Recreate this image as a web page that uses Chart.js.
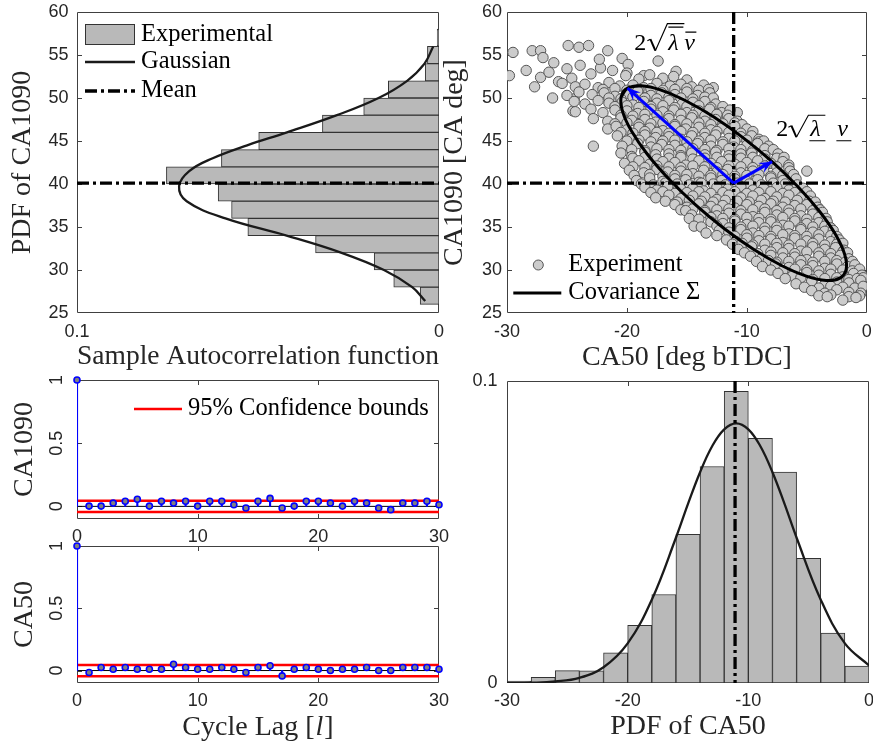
<!DOCTYPE html>
<html>
<head>
<meta charset="utf-8">
<script src="https://cdn.jsdelivr.net/npm/chart.js@4.4.1/dist/chart.umd.min.js"></script>
<style>
html, body { margin: 0; padding: 0; background: #fff; overflow: hidden; }
#fig { position: relative; width: 873px; height: 746px; }
#fig canvas { position: absolute; }
</style>
</head>
<body>
<div id="fig">
  <canvas id="cPdf1090" style="left:0;top:0" width="450" height="372"></canvas>
  <canvas id="cScatter" style="left:440px;top:0" width="433" height="372"></canvas>
  <canvas id="cAcf1090" style="left:0;top:372px" width="450" height="180"></canvas>
  <canvas id="cAcf50" style="left:0;top:540px" width="450" height="206"></canvas>
  <canvas id="cPdf50" style="left:440px;top:372px" width="433" height="374"></canvas>
</div>
<script>
// ─────────────────────────────
// DATA
// ─────────────────────────────
// CA1090 histogram (bins of 2 deg) + fitted gaussian
const ca1090BinCentres = [27, 29, 31, 33, 35, 37, 39, 41, 43, 45, 47, 49, 51, 53, 55, 57];
const ca1090Pdf = [0.0052, 0.0125, 0.0179, 0.0341, 0.0528, 0.0573, 0.0610, 0.0753, 0.0601, 0.0498, 0.0322, 0.0208, 0.0140, 0.0038, 0.0032, 0.0005];
const ca1090FitAt = [26.4, 28, 30, 32, 34, 36, 38, 39.75, 41.5, 43, 44.5, 46, 48, 50, 52, 54, 56];
const ca1090FitPdf = [0.0038, 0.0074, 0.0152, 0.0269, 0.0421, 0.0590, 0.0697, 0.0718, 0.0690, 0.0625, 0.0530, 0.0420, 0.0282, 0.0167, 0.0088, 0.0040, 0.0016];
const ca1090Mean = 40.1;

// CA50 histogram + fitted gaussian
const ca50BinCentres = [-29, -27, -25, -23, -21, -19, -17, -15, -13, -11, -9, -7, -5, -3, -1];
const ca50Pdf = [0.0006, 0.0019, 0.0041, 0.0040, 0.0100, 0.0191, 0.0293, 0.0492, 0.0717, 0.0966, 0.0810, 0.0698, 0.0413, 0.0165, 0.0056];
const ca50FitAt = [-30, -28, -26, -24, -22, -20, -18, -16, -15, -14, -13, -12, -11, -10, -9, -8, -7, -6, -4, -2, 0];
const ca50FitPdf = [0.0000, 0.0001, 0.0005, 0.0017, 0.0052, 0.0131, 0.0276, 0.0481, 0.0593, 0.0698, 0.0784, 0.0840, 0.0860, 0.0840, 0.0784, 0.0698, 0.0593, 0.0481, 0.0276, 0.0131, 0.0058];
const ca50Mean = -11.1;

// experiment cloud [CA50, CA1090]
const experiment = [
  // sparse upper-left points and outliers
  [-29.5,55.3],[-29.8,52.6],[-27.9,55.5],[-27.2,55.5],[-27.0,54.7],[-28.4,53.2],[-27.2,52.4],[-27.7,51.3],[-26.1,54.1],[-26.5,53.0],
  [-24.9,56.1],[-24.0,55.9],[-23.2,56.1],[-25.0,53.4],[-25.7,51.9],[-24.6,52.3],[-26.2,50.0],[-24.4,49.9],[-24.5,48.5],[-23.9,53.8],
  [-23.0,52.8],[-22.2,53.5],[-21.2,53.2],[-21.6,55.5],[-22.3,54.5],[-20.4,54.6],[-19.9,53.9],[-20.0,52.9],[-17.4,54.3],[-15.9,53.1],
  [-18.6,52.6],[-22.8,44.4],[-12.8,51.2],[-10.8,48.3],[-5.0,41.5],
  // main band
  [-20.1,52.6],[-19.0,52.2],[-18.1,52.7],[-17.0,52.3],[-16.1,52.5],[-15.0,52.1],
  [-25.4,51.7],[-24.3,51.3],[-23.5,51.6],[-22.4,51.2],[-21.5,51.8],[-20.6,51.4],[-19.5,51.5],[-18.6,51.2],[-17.5,51.7],[-16.4,51.4],[-15.5,51.6],[-14.6,51.3],[-13.6,51.5],
  [-22.0,51.0],[-21.0,51.1],[-20.0,50.9],[-19.0,51.0],[-18.0,51.1],[-17.0,50.9],[-16.0,51.0],[-15.0,51.1],[-14.0,50.9],[-13.2,51.0],
  [-25.0,50.3],[-24.0,50.7],[-22.9,50.4],[-21.9,50.6],[-21.0,50.2],[-20.0,50.5],[-19.1,50.8],[-18.0,50.3],[-17.1,50.6],[-16.0,50.4],[-15.0,50.7],[-14.1,50.3],[-13.1,50.6],
  [-21.5,50.0],[-20.5,49.9],[-19.5,50.1],[-18.5,50.0],[-17.5,49.9],[-16.5,50.1],[-15.5,50.0],[-14.5,49.9],[-13.5,50.1],[-12.8,50.0],
  [-24.4,49.6],[-23.5,49.3],[-22.4,49.7],[-21.5,49.4],[-20.4,49.5],[-19.5,49.2],[-18.6,49.6],[-17.5,49.4],[-16.5,49.7],[-15.4,49.3],[-14.5,49.5],[-13.5,49.6],[-12.6,49.3],
  [-21.0,49.0],[-20.0,49.1],[-19.0,48.9],[-18.0,49.0],[-17.0,49.1],[-16.0,48.9],[-15.0,49.0],[-14.0,49.1],[-13.0,48.9],[-12.0,49.0],
  [-24.3,48.4],[-23.0,48.7],[-22.0,48.3],[-21.0,48.6],[-20.0,48.5],[-19.1,48.2],[-18.0,48.7],[-17.0,48.4],[-16.1,48.6],[-15.0,48.3],[-14.0,48.5],[-13.1,48.7],[-12.1,48.3],[-11.4,48.6],
  [-20.5,48.0],[-19.5,47.9],[-18.5,48.1],[-17.5,48.0],[-16.5,47.9],[-15.5,48.1],[-14.5,48.0],[-13.5,47.9],[-12.5,48.1],[-11.6,48.0],
  [-22.8,47.6],[-21.6,47.3],[-20.5,47.7],[-19.6,47.4],[-18.5,47.5],[-17.6,47.2],[-16.5,47.6],[-15.5,47.4],[-14.6,47.7],[-13.5,47.3],[-12.6,47.5],[-11.5,47.6],[-10.8,47.3],
  [-21.0,47.0],[-20.0,47.1],[-19.0,46.9],[-18.0,47.0],[-17.0,47.1],[-16.0,46.9],[-15.0,47.0],[-14.0,47.1],[-13.0,46.9],[-12.0,47.0],[-11.0,47.1],[-10.4,46.9],
  [-21.6,46.4],[-20.9,46.7],[-20.0,46.3],[-19.0,46.6],[-18.1,46.5],[-17.0,46.2],[-16.0,46.7],[-15.1,46.4],[-14.0,46.6],[-13.0,46.3],[-12.1,46.5],[-11.0,46.7],[-10.0,46.4],
  [-20.5,46.0],[-19.5,45.9],[-18.5,46.1],[-17.5,46.0],[-16.5,45.9],[-15.5,46.1],[-14.5,46.0],[-13.5,45.9],[-12.5,46.1],[-11.5,46.0],[-10.5,45.9],[-9.5,46.1],
  [-20.8,45.6],[-19.6,45.3],[-18.5,45.7],[-17.6,45.4],[-16.5,45.5],[-15.5,45.2],[-14.6,45.6],[-13.5,45.4],[-12.6,45.7],[-11.5,45.3],[-10.5,45.5],[-9.6,45.6],[-9.0,45.2],
  [-20.0,45.0],[-19.0,45.1],[-18.0,44.9],[-17.0,45.0],[-16.0,45.1],[-15.0,44.9],[-14.0,45.0],[-13.0,45.1],[-12.0,44.9],[-11.0,45.0],[-10.0,45.1],[-9.0,44.9],[-8.6,45.0],
  [-20.4,44.4],[-19.1,44.7],[-18.0,44.3],[-17.1,44.6],[-16.0,44.5],[-15.0,44.2],[-14.1,44.7],[-13.0,44.4],[-12.0,44.6],[-11.1,44.3],[-10.0,44.5],[-9.1,44.7],[-8.2,44.4],
  [-19.6,44.0],[-18.5,43.9],[-17.5,44.1],[-16.5,44.0],[-15.5,43.9],[-14.5,44.1],[-13.5,44.0],[-12.5,43.9],[-11.5,44.1],[-10.5,44.0],[-9.5,43.9],[-8.5,44.1],[-7.8,44.0],
  [-20.5,43.6],[-19.6,43.2],[-18.5,43.7],[-17.6,43.4],[-16.5,43.5],[-15.5,43.3],[-14.6,43.6],[-13.5,43.4],[-12.6,43.7],[-11.5,43.3],[-10.5,43.5],[-9.6,43.6],[-8.5,43.3],[-7.4,43.5],
  [-19.5,43.0],[-18.5,43.1],[-17.5,42.9],[-16.5,43.0],[-15.5,43.1],[-14.5,42.9],[-13.5,43.0],[-12.5,43.1],[-11.5,42.9],[-10.5,43.0],[-9.5,43.1],[-8.5,42.9],[-7.5,43.0],[-6.9,43.1],
  [-20.2,42.4],[-19.0,42.7],[-18.1,42.3],[-17.0,42.6],[-16.0,42.5],[-15.1,42.2],[-14.0,42.7],[-13.0,42.4],[-12.1,42.6],[-11.0,42.3],[-10.0,42.5],[-9.1,42.7],[-8.0,42.4],[-7.0,42.6],[-6.5,42.2],
  [-19.5,42.0],[-18.5,41.9],[-17.5,42.1],[-16.5,42.0],[-15.5,41.9],[-14.5,42.1],[-13.5,42.0],[-12.5,41.9],[-11.5,42.1],[-10.5,42.0],[-9.5,41.9],[-8.5,42.1],[-7.5,42.0],[-6.5,41.9],
  [-19.8,41.6],[-18.6,41.3],[-17.5,41.7],[-16.6,41.4],[-15.5,41.5],[-14.5,41.2],[-13.6,41.6],[-12.5,41.4],[-11.6,41.7],[-10.5,41.3],[-9.5,41.5],[-8.6,41.6],[-7.5,41.3],[-6.4,41.5],
  [-19.4,41.0],[-18.1,41.1],[-17.0,40.9],[-16.0,41.0],[-15.0,41.1],[-14.0,40.9],[-13.0,41.0],[-12.0,41.1],[-11.0,40.9],[-10.0,41.0],[-9.0,41.1],[-8.0,40.9],[-7.0,41.0],[-6.1,41.1],
  [-19.2,40.4],[-18.1,40.7],[-17.0,40.3],[-16.0,40.6],[-15.1,40.5],[-14.0,40.2],[-13.0,40.7],[-12.1,40.4],[-11.0,40.6],[-10.0,40.3],[-9.1,40.5],[-8.0,40.7],[-7.0,40.4],[-5.9,40.6],
  [-18.8,40.0],[-17.8,39.9],[-16.8,40.1],[-15.8,40.0],[-14.8,39.9],[-13.8,40.1],[-12.8,40.0],[-11.8,39.9],[-10.8,40.1],[-9.8,40.0],[-8.8,39.9],[-7.8,40.1],[-6.8,40.0],[-5.8,39.9],
  [-18.5,39.6],[-17.5,39.3],[-16.6,39.7],[-15.5,39.4],[-14.5,39.5],[-13.6,39.2],[-12.5,39.6],[-11.6,39.4],[-10.5,39.7],[-9.5,39.3],[-8.6,39.5],[-7.5,39.6],[-6.5,39.3],[-5.3,39.5],
  [-18.0,39.0],[-17.0,39.1],[-16.0,38.9],[-15.0,39.0],[-14.0,39.1],[-13.0,38.9],[-12.0,39.0],[-11.0,39.1],[-10.0,38.9],[-9.0,39.0],[-8.0,39.1],[-7.0,38.9],[-6.0,39.0],[-5.0,39.1],
  [-17.6,38.4],[-16.5,38.7],[-15.5,38.3],[-14.5,38.6],[-13.5,38.5],[-12.5,38.2],[-11.5,38.7],[-10.5,38.4],[-9.5,38.6],[-8.5,38.3],[-7.5,38.5],[-6.5,38.7],[-5.5,38.4],[-4.7,38.6],
  [-16.8,38.0],[-15.8,37.9],[-14.8,38.1],[-13.8,38.0],[-12.8,37.9],[-11.8,38.1],[-10.8,38.0],[-9.8,37.9],[-8.8,38.1],[-7.8,38.0],[-6.8,37.9],[-5.8,38.1],[-4.8,38.0],[-4.3,37.9],
  [-16.0,37.6],[-15.0,37.3],[-14.0,37.7],[-13.0,37.4],[-12.0,37.5],[-11.0,37.2],[-10.0,37.6],[-9.0,37.4],[-8.0,37.7],[-7.0,37.3],[-6.0,37.5],[-5.0,37.6],[-4.1,37.3],
  [-15.5,37.0],[-14.5,37.1],[-13.5,36.9],[-12.5,37.0],[-11.5,37.1],[-10.5,36.9],[-9.5,37.0],[-8.5,37.1],[-7.5,36.9],[-6.5,37.0],[-5.5,37.1],[-4.5,36.9],[-3.9,37.0],
  [-15.1,36.9],[-14.6,36.4],[-13.5,36.7],[-12.5,36.3],[-11.5,36.6],[-10.5,36.5],[-9.5,36.2],[-8.5,36.7],[-7.5,36.4],[-6.5,36.6],[-5.5,36.3],[-4.5,36.5],[-3.7,36.7],
  [-14.8,36.0],[-14.0,35.9],[-13.0,36.1],[-12.0,36.0],[-11.0,35.9],[-10.0,36.1],[-9.0,36.0],[-8.0,35.9],[-7.0,36.1],[-6.0,36.0],[-5.0,35.9],[-4.0,36.1],[-3.4,36.0],
  [-14.4,35.1],[-13.0,35.6],[-12.0,35.4],[-11.0,35.7],[-10.0,35.3],[-9.0,35.5],[-8.0,35.6],[-7.0,35.2],[-6.0,35.7],[-5.0,35.4],[-4.0,35.5],[-3.3,35.6],
  [-13.8,35.0],[-12.5,35.1],[-11.5,34.9],[-10.5,35.0],[-9.5,35.1],[-8.5,34.9],[-7.5,35.0],[-6.5,35.1],[-5.5,34.9],[-4.5,35.0],[-3.5,35.1],[-3.0,34.9],
  [-13.4,34.3],[-12.3,34.6],[-11.5,34.4],[-10.5,34.7],[-9.5,34.3],[-8.5,34.5],[-7.5,34.6],[-6.5,34.2],[-5.5,34.7],[-4.5,34.4],[-3.5,34.5],[-2.8,34.6],
  [-12.5,34.0],[-11.0,33.9],[-10.0,34.1],[-9.0,34.0],[-8.0,33.9],[-7.0,34.1],[-6.0,34.0],[-5.0,33.9],[-4.0,34.1],[-3.0,34.0],[-2.5,33.9],
  [-11.7,33.5],[-10.9,33.3],[-10.0,33.7],[-9.0,33.4],[-8.0,33.6],[-7.0,33.2],[-6.0,33.7],[-5.0,33.4],[-4.0,33.6],[-3.0,33.3],[-2.3,33.5],
  [-11.2,33.0],[-10.4,33.1],[-9.5,32.9],[-8.5,33.0],[-7.5,33.1],[-6.5,32.9],[-5.5,33.0],[-4.5,33.1],[-3.5,32.9],[-2.5,33.0],[-2.0,33.1],
  [-10.7,32.4],[-9.6,32.7],[-8.5,32.3],[-7.5,32.6],[-6.5,32.5],[-5.5,32.2],[-4.5,32.7],[-3.5,32.4],[-2.6,32.6],[-1.9,32.3],
  [-10.2,32.0],[-9.1,31.9],[-8.0,32.1],[-7.0,32.0],[-6.0,31.9],[-5.0,32.1],[-4.0,32.0],[-3.0,31.9],[-2.0,32.1],[-1.6,32.0],
  [-9.7,31.6],[-8.8,31.3],[-8.0,31.7],[-7.0,31.4],[-6.0,31.5],[-5.0,31.2],[-4.0,31.6],[-3.0,31.4],[-2.2,31.7],[-1.5,31.3],
  [-9.2,31.0],[-8.2,31.1],[-7.5,30.9],[-6.5,31.0],[-5.5,31.1],[-4.5,30.9],[-3.5,31.0],[-2.5,31.1],[-1.8,30.9],[-1.2,31.0],
  [-8.7,30.4],[-7.6,30.7],[-6.5,30.3],[-5.5,30.6],[-4.5,30.5],[-3.5,30.2],[-2.5,30.7],[-1.6,30.4],[-1.0,30.6],
  [-8.0,30.0],[-7.0,29.9],[-6.0,30.1],[-5.0,30.0],[-4.0,29.9],[-3.0,30.1],[-2.0,30.0],[-1.2,29.9],[-0.6,30.1],
  [-7.4,29.6],[-6.2,29.3],[-5.0,29.7],[-4.0,29.4],[-3.0,29.5],[-2.0,29.2],[-1.1,29.6],[-0.4,29.4],
  [-6.8,29.0],[-5.5,29.1],[-4.5,28.9],[-3.5,29.0],[-2.5,29.1],[-1.5,28.9],[-0.8,29.0],[-0.3,29.1],
  [-5.9,28.4],[-4.6,28.7],[-3.5,28.3],[-2.5,28.6],[-1.5,28.5],[-0.5,28.8],
  [-5.2,28.0],[-4.0,27.9],[-3.0,28.1],[-2.0,28.0],[-1.0,27.9],[-0.3,28.1],
  [-4.6,27.6],[-3.5,27.3],[-2.5,27.7],[-1.5,27.4],[-0.5,27.3],
  [-4.0,27.0],[-3.0,27.1],[-1.5,26.9],[-0.6,27.0],
  [-3.3,26.9],[-2.0,26.5],[-0.9,26.8]
];

// covariance ellipse outline (loop overlaps its start)
const covEllipse = [
  [-20.48,50.13],[-19.95,51.15],[-18.82,51.42],[-17.16,50.92],[-15.10,49.68],[-12.75,47.79],[-10.30,45.37],
  [-7.90,42.60],[-5.72,39.66],[-3.90,36.74],[-2.58,34.06],[-1.84,31.78],[-1.72,30.07],[-2.25,29.05],
  [-3.38,28.78],[-5.04,29.28],[-7.11,30.52],[-9.45,32.41],[-11.90,34.83],[-14.30,37.60],[-16.48,40.55],
  [-18.30,43.46],[-19.62,46.15],[-20.36,48.42],[-20.48,50.13],[-19.95,51.15],[-18.82,51.42]
];
const arrowMajor = [[-11.1, 40.1], [-19.95, 51.15]];
const arrowMinor = [[-11.1, 40.1], [-7.9, 42.6]];

// sample autocorrelation
const lags = [0, 1, 2, 3, 4, 5, 6, 7, 8, 9, 10, 11, 12, 13, 14, 15, 16, 17, 18, 19, 20, 21, 22, 23, 24, 25, 26, 27, 28, 29, 30];
const acfCA1090 = [1, 0.002, 0.002, 0.026, 0.040, 0.056, 0.002, 0.040, 0.026, 0.040, 0.002, 0.040, 0.040, 0.013, -0.013, 0.040, 0.063, -0.013, 0.002, 0.040, 0.040, 0.026, 0.002, 0.040, 0.026, -0.013, -0.026, 0.026, 0.026, 0.040, 0.013];
const acfCA50 = [1, -0.016, 0.024, 0.011, 0.024, 0.011, 0.011, 0.011, 0.051, 0.024, 0.011, 0.011, 0.024, 0.011, -0.016, 0.024, 0.038, -0.043, 0.011, 0.024, 0.011, 0.000, 0.011, 0.011, 0.024, 0.000, 0.000, 0.024, 0.024, 0.024, 0.011];
const confBound = 0.045;

// tick values
const pdfTicks1090 = [0, 0.1];
const caTicks = [25, 30, 35, 40, 45, 50, 55, 60];
const ca50Ticks = [-30, -20, -10, 0];
const lagTicks = [0, 10, 20, 30];
const acfTicks = [0, 0.5, 1];
const pdfTicks50 = [0, 0.1];

// ─────────────────────────────
// STYLE
// ─────────────────────────────
const INK = '#262626';
const BOX = '#404040';
const HIST_FILL = '#b9b9b9';
const HIST_EDGE = '#333333';
const FIT_LINE = '#1a1a1a';
const MEAN_DASH = [12, 4, 3, 4];
const SERIF = '"Liberation Serif"';
const LEG_FONT = '24.5px ' + SERIF;

Chart.defaults.font.family = 'Liberation Sans';

function axis(o) {
    return {
        type: 'linear', min: o.min, max: o.max, reverse: !!o.reverse, offset: false,
        grid: { display: false, drawTicks: false },
        border: { display: false },
        afterBuildTicks: s => { s.ticks = o.ticks.map(v => ({ value: v })); },
        afterFit: s => {
            if (s.isHorizontal()) { s.height = o.size; s.paddingLeft = 0; s.paddingRight = 0; }
            else { s.width = o.size; s.paddingTop = 0; s.paddingBottom = 0; }
        },
        ticks: {
            display: o.showLabels !== false, autoSkip: false, maxRotation: 0, minRotation: 0,
            padding: o.pad == null ? 7 : o.pad, color: INK,
            font: { family: 'Liberation Sans', size: 18 }
        },
        title: o.title ? {
            display: true, text: o.title, color: INK,
            font: { family: 'Liberation Serif', size: 28, lineHeight: 1 }, padding: o.titlePad
        } : { display: false }
    };
}

function baseOptions(pad, scales, extra) {
    return {
        responsive: false, animation: false, events: [],
        layout: { padding: pad },
        plugins: Object.assign({ legend: { display: false }, tooltip: { enabled: false } }, extra || {}),
        scales
    };
}

function seg(ctx, x0, y0, x1, y1, color, width, dash) {
    ctx.save();
    ctx.strokeStyle = color; ctx.lineWidth = width; ctx.setLineDash(dash || []);
    ctx.beginPath(); ctx.moveTo(x0, y0); ctx.lineTo(x1, y1); ctx.stroke();
    ctx.restore();
}

function label(ctx, text, x, y, font) {
    ctx.save();
    ctx.font = font || LEG_FONT; ctx.fillStyle = '#000';
    ctx.textAlign = 'left'; ctx.textBaseline = 'middle';
    ctx.fillText(text, x, y);
    ctx.restore();
}

// ─────────────────────────────
// PLUGINS
// ─────────────────────────────
// matlab style box with inward ticks
const axesBox = {
    id: 'axesBox',
    beforeDatasetsDraw(chart, args, opts) {
        const { ctx, chartArea: a, scales: { x, y } } = chart;
        const L = 4.5;
        const l = Math.round(a.left) + 0.5, r = Math.round(a.right) - 0.5;
        const t = Math.round(a.top) + 0.5, b = Math.round(a.bottom) - 0.5;
        ctx.save();
        ctx.strokeStyle = BOX; ctx.lineWidth = 1;
        ctx.beginPath();
        ctx.rect(l, t, r - l, b - t);
        x.ticks.forEach(tk => {
            const p = Math.round(x.getPixelForValue(tk.value)) + 0.5;
            if (p <= l + 1 || p >= r - 1) return;
            ctx.moveTo(p, b); ctx.lineTo(p, b - L);
            ctx.moveTo(p, t); ctx.lineTo(p, t + L);
        });
        y.ticks.forEach(tk => {
            const p = Math.round(y.getPixelForValue(tk.value)) + 0.5;
            if (p <= t + 1 || p >= b - 1) return;
            ctx.moveTo(l, p); ctx.lineTo(l + L, p);
            ctx.moveTo(r, p); ctx.lineTo(r - L, p);
        });
        ctx.stroke();
        if (opts && opts.rotatedY) {
            ctx.fillStyle = INK; ctx.font = '18px "Liberation Sans"';
            ctx.textAlign = 'center'; ctx.textBaseline = 'middle';
            y.ticks.forEach(tk => {
                ctx.save();
                ctx.translate(a.left - 19.5, y.getPixelForValue(tk.value));
                ctx.rotate(-Math.PI / 2);
                ctx.fillText(String(tk.value), 0, 0);
                ctx.restore();
            });
        }
        ctx.restore();
    }
};

const legendPdf1090 = {
    id: 'legendPdf1090',
    afterDatasetsDraw(chart) {
        const { ctx, chartArea: a } = chart;
        const x0 = a.left + 8, x1 = a.left + 58, tx = a.left + 64;
        const r1 = a.top + 22.5, r2 = a.top + 50, r3 = a.top + 79;
        ctx.save();
        ctx.fillStyle = HIST_FILL; ctx.strokeStyle = HIST_EDGE; ctx.lineWidth = 1;
        ctx.fillRect(x0, r1 - 10.5, 50, 21);
        ctx.strokeRect(x0 + 0.5, r1 - 10, 49, 20);
        ctx.restore();
        seg(ctx, x0, r2, x1, r2, FIT_LINE, 2.3);
        seg(ctx, x0, r3, x1, r3, '#000', 3.3, MEAN_DASH);
        label(ctx, 'Experimental', tx, r1);
        label(ctx, 'Gaussian', tx, r2);
        label(ctx, 'Mean', tx, r3);
    }
};

const scatterExtras = {
    id: 'scatterExtras',
    afterDatasetsDraw(chart) {
        const { ctx, chartArea: a, scales: { x, y } } = chart;
        // arrow heads
        ctx.save();
        ctx.fillStyle = '#0000ff';
        [arrowMajor, arrowMinor].forEach(([p, q]) => {
            const x0 = x.getPixelForValue(p[0]), y0 = y.getPixelForValue(p[1]);
            const x1 = x.getPixelForValue(q[0]), y1 = y.getPixelForValue(q[1]);
            const ang = Math.atan2(y1 - y0, x1 - x0), len = 14, spread = 0.42;
            ctx.beginPath();
            ctx.moveTo(x1, y1);
            ctx.lineTo(x1 - len * Math.cos(ang - spread), y1 - len * Math.sin(ang - spread));
            ctx.lineTo(x1 - len * 0.55 * Math.cos(ang), y1 - len * 0.55 * Math.sin(ang));
            ctx.lineTo(x1 - len * Math.cos(ang + spread), y1 - len * Math.sin(ang + spread));
            ctx.closePath(); ctx.fill();
        });
        ctx.restore();

        // eigen labels
        ctx.save();
        ctx.fillStyle = '#000'; ctx.strokeStyle = '#000';
        ctx.textAlign = 'left'; ctx.textBaseline = 'alphabetic';
        const up = '24px ' + SERIF, it = 'italic 24px ' + SERIF;
        const radical = (x0, b, top, end) => {
            ctx.lineWidth = 1.1;
            ctx.beginPath(); ctx.moveTo(x0, b - 9); ctx.lineTo(x0 + 3, b - 10.5); ctx.stroke();
            ctx.lineWidth = 2;
            ctx.beginPath(); ctx.moveTo(x0 + 3, b - 10.5); ctx.lineTo(x0 + 8, b + 1); ctx.stroke();
            ctx.lineWidth = 1.1;
            ctx.beginPath(); ctx.moveTo(x0 + 8, b + 1); ctx.lineTo(x0 + 20, top); ctx.lineTo(end, top); ctx.stroke();
        };
        // 2 sqrt(lambda-bar) v-bar
        let x0 = x.getPixelForValue(-19.38), b = y.getPixelForValue(55.62);
        ctx.font = up; ctx.fillText('2', x0, b);
        radical(x0 + 13, b, b - 26, x0 + 50);
        ctx.font = it; ctx.fillText('\u03bb', x0 + 34, b); ctx.fillText('v', x0 + 50, b);
        ctx.lineWidth = 1.1;
        ctx.beginPath(); ctx.moveTo(x0 + 34, b - 22.5); ctx.lineTo(x0 + 49, b - 22.5);
        ctx.moveTo(x0 + 51, b - 17.5); ctx.lineTo(x0 + 62, b - 17.5); ctx.stroke();
        // 2 sqrt(lambda-underbar) v-underbar
        x0 = x.getPixelForValue(-7.54); b = y.getPixelForValue(45.56);
        ctx.font = up; ctx.fillText('2', x0, b);
        radical(x0 + 12, b, b - 21, x0 + 49);
        ctx.font = it; ctx.fillText('\u03bb', x0 + 34, b); ctx.fillText('v', x0 + 61, b);
        ctx.lineWidth = 1.1;
        ctx.beginPath(); ctx.moveTo(x0 + 33, b + 4.5); ctx.lineTo(x0 + 49, b + 4.5);
        ctx.moveTo(x0 + 60, b + 4.5); ctx.lineTo(x0 + 75, b + 4.5); ctx.stroke();
        ctx.restore();

        // legend
        const mx = a.left + 31.3, r1 = a.top + 253, r2 = a.top + 281;
        ctx.save();
        ctx.fillStyle = '#cccccc'; ctx.strokeStyle = '#555555'; ctx.lineWidth = 1;
        ctx.beginPath(); ctx.arc(mx, r1, 5, 0, Math.PI * 2); ctx.fill(); ctx.stroke();
        ctx.restore();
        seg(ctx, a.left + 6.3, r2, a.left + 54.3, r2, '#000', 3);
        label(ctx, 'Experiment', a.left + 61.3, r1);
        label(ctx, 'Covariance \u03a3', a.left + 61.3, r2);
    }
};

const legendAcf = {
    id: 'legendAcf',
    afterDatasetsDraw(chart) {
        const { ctx, chartArea: a } = chart;
        const r = a.top + 29;
        seg(ctx, a.left + 57, r, a.left + 105, r, '#ff0000', 2.5);
        label(ctx, '95% Confidence bounds', a.left + 111, r);
    }
};

const lagTitle = {
    id: 'lagTitle',
    afterDraw(chart) {
        const { ctx, chartArea: a } = chart;
        const up = '28px ' + SERIF, it = 'italic 28px ' + SERIF;
        const parts = [['Cycle Lag [', up], ['l', it], [']', up]];
        ctx.save();
        ctx.fillStyle = INK; ctx.textBaseline = 'middle'; ctx.textAlign = 'left';
        let w = 0;
        parts.forEach(([s, f]) => { ctx.font = f; w += ctx.measureText(s).width + (f === it ? 2 : 0); });
        let x = (a.left + a.right) / 2 - w / 2;
        const y = a.bottom + 45;
        parts.forEach(([s, f]) => {
            ctx.font = f;
            if (f === it) x += 1;
            ctx.fillText(s, x, y);
            x += ctx.measureText(s).width + (f === it ? 1 : 0);
        });
        ctx.restore();
    }
};

// ─────────────────────────────
// CHART 1 - PDF OF CA1090 (horizontal histogram)
// ─────────────────────────────
new Chart(document.getElementById('cPdf1090'), {
    type: 'bar',
    data: {
        datasets: [
            {
                type: 'line', data: [{ x: 0.1, y: ca1090Mean }, { x: 0, y: ca1090Mean }],
                borderColor: '#000', borderWidth: 3.3, borderDash: MEAN_DASH, pointRadius: 0, order: 0
            },
            {
                type: 'line', data: ca1090FitAt.map((v, i) => ({ x: ca1090FitPdf[i], y: v })),
                borderColor: FIT_LINE, borderWidth: 2.3, tension: 0.4, pointRadius: 0, order: 1
            },
            {
                type: 'bar', indexAxis: 'y', data: ca1090BinCentres.map((v, i) => ({ x: ca1090Pdf[i], y: v })),
                backgroundColor: HIST_FILL, borderColor: HIST_EDGE, borderWidth: 1, borderSkipped: false,
                barPercentage: 1, categoryPercentage: 1, order: 2
            }
        ]
    },
    options: baseOptions({ top: 12, right: 11, left: 0, bottom: 0 }, {
        x: axis({ min: 0, max: 0.1, reverse: true, ticks: pdfTicks1090, size: 59, pad: 8,
                  title: 'Sample Autocorrelation function', titlePad: { bottom: 1 } }),
        y: axis({ min: 25, max: 60, ticks: caTicks, size: 77, pad: 8.5,
                  title: 'PDF of CA1090', titlePad: { top: 9 } })
    }),
    plugins: [axesBox, legendPdf1090]
});

// ─────────────────────────────
// CHART 2 - SCATTER + COVARIANCE
// ─────────────────────────────
new Chart(document.getElementById('cScatter'), {
    type: 'scatter',
    data: {
        datasets: [
            {
                type: 'line', data: arrowMajor.map(p => ({ x: p[0], y: p[1] })),
                borderColor: '#0000ff', borderWidth: 3, pointRadius: 0, order: 0
            },
            {
                type: 'line', data: arrowMinor.map(p => ({ x: p[0], y: p[1] })),
                borderColor: '#0000ff', borderWidth: 3, pointRadius: 0, order: 0
            },
            {
                type: 'line', data: [{ x: ca50Mean, y: 60 }, { x: ca50Mean, y: 25 }],
                borderColor: '#000', borderWidth: 3.3, borderDash: MEAN_DASH, pointRadius: 0, order: 1
            },
            {
                type: 'line', data: [{ x: -30, y: ca1090Mean }, { x: 0, y: ca1090Mean }],
                borderColor: '#000', borderWidth: 3.3, borderDash: MEAN_DASH, pointRadius: 0, order: 1
            },
            {
                type: 'line', data: covEllipse.map(p => ({ x: p[0], y: p[1] })),
                borderColor: '#000', borderWidth: 3, tension: 0.4, pointRadius: 0, order: 2
            },
            {
                type: 'scatter', data: experiment.map(p => ({ x: p[0], y: p[1] })),
                pointRadius: 5.2, pointBackgroundColor: '#cccccc', pointBorderColor: '#555555',
                pointBorderWidth: 1, order: 3
            }
        ]
    },
    options: baseOptions({ top: 12, right: 4, left: 0, bottom: 0 }, {
        x: axis({ min: -30, max: 0, ticks: ca50Ticks, size: 59, pad: 8,
                  title: 'CA50 [deg bTDC]', titlePad: { bottom: 0 } }),
        y: axis({ min: 25, max: 60, ticks: caTicks, size: 67, pad: 5,
                  title: 'CA1090 [CA deg]', titlePad: { top: 1 } })
    }),
    plugins: [axesBox, scatterExtras]
});

// ─────────────────────────────
// CHART 3/4 - AUTOCORRELATION STEMS
// ─────────────────────────────
function acfChart(id, values, padTop, xSize, yTitle, extraPlugins) {
    return new Chart(document.getElementById(id), {
        type: 'bar',
        data: {
            datasets: [
                {
                    type: 'scatter', data: lags.map((l, i) => ({ x: l, y: values[i] })),
                    pointRadius: 3, pointBackgroundColor: '#808080', pointBorderColor: '#0000ff',
                    pointBorderWidth: 1.6, clip: false, order: 0
                },
                {
                    type: 'bar', data: lags.map((l, i) => ({ x: l, y: values[i] })),
                    backgroundColor: '#0000ff', barThickness: 1.5, order: 1
                },
                {
                    type: 'line', data: [{ x: 0, y: confBound }, { x: 30, y: confBound }],
                    borderColor: '#ff0000', borderWidth: 2.5, pointRadius: 0, order: 2
                },
                {
                    type: 'line', data: [{ x: 0, y: -confBound }, { x: 30, y: -confBound }],
                    borderColor: '#ff0000', borderWidth: 2.5, pointRadius: 0, order: 2
                },
                {
                    type: 'line', data: [{ x: 0, y: 0 }, { x: 30, y: 0 }],
                    borderColor: '#000', borderWidth: 1, pointRadius: 0, order: 3
                }
            ]
        },
        options: baseOptions({ top: padTop, right: 11, left: 0, bottom: 0 }, {
            x: axis({ min: 0, max: 30, ticks: lagTicks, size: xSize, pad: 7 }),
            y: axis({ min: -0.1, max: 1, ticks: acfTicks, size: 77, showLabels: false,
                      title: yTitle, titlePad: { top: 11 } })
        }, { axesBox: { rotatedY: true } }),
        plugins: [axesBox].concat(extraPlugins)
    });
}
acfChart('cAcf1090', acfCA1090, 8, 33, 'CA1090', [legendAcf]);
acfChart('cAcf50', acfCA50, 6, 63, 'CA50', [lagTitle]);

// ─────────────────────────────
// CHART 5 - PDF OF CA50
// ─────────────────────────────
new Chart(document.getElementById('cPdf50'), {
    type: 'bar',
    data: {
        datasets: [
            {
                type: 'line', data: [{ x: ca50Mean, y: 0.1 }, { x: ca50Mean, y: 0 }],
                borderColor: '#000', borderWidth: 3.3, borderDash: MEAN_DASH, pointRadius: 0, order: 0
            },
            {
                type: 'line', data: ca50FitAt.map((v, i) => ({ x: v, y: ca50FitPdf[i] })),
                borderColor: FIT_LINE, borderWidth: 2.3, tension: 0.4, pointRadius: 0, order: 1
            },
            {
                type: 'bar', data: ca50BinCentres.map((v, i) => ({ x: v, y: ca50Pdf[i] })),
                backgroundColor: HIST_FILL, borderColor: HIST_EDGE, borderWidth: 1, borderSkipped: false,
                barPercentage: 1, categoryPercentage: 1, order: 2
            }
        ]
    },
    options: baseOptions({ top: 9, right: 4, left: 0, bottom: 0 }, {
        x: axis({ min: -30, max: 0, ticks: ca50Ticks, size: 63, pad: 7,
                  title: 'PDF of CA50', titlePad: { bottom: 5 } }),
        y: axis({ min: 0, max: 0.1, ticks: pdfTicks50, size: 67, pad: 9.5 })
    }),
    plugins: [axesBox]
});
</script>
</body>
</html>
